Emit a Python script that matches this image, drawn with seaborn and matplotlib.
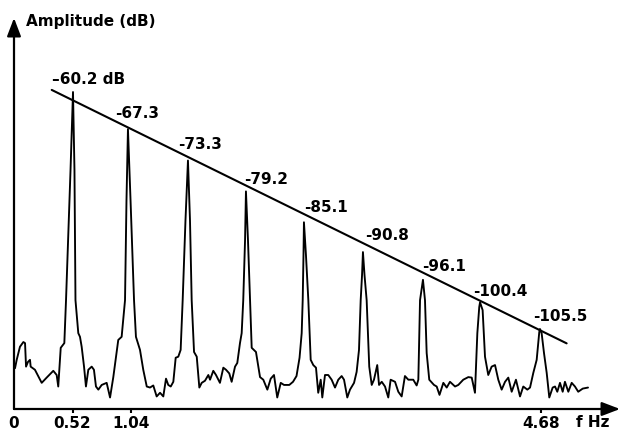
import matplotlib
matplotlib.use("Agg")
import matplotlib.pyplot as plt
import pandas as pd
import seaborn as sns

# Harmonic peaks of the spectrum (frequency in Hz, amplitude in dB)
peak_freq = [0.524, 1.012, 1.545, 2.060, 2.575, 3.099, 3.632, 4.139, 4.671]
peak_db = [-60.2, -67.3, -73.3, -79.2, -85.1, -90.8, -96.1, -100.4, -105.5]

# Remaining points of the measured spectrum trace (noise floor and peak flanks)
trace_freq = [
    0.009, 0.024, 0.053, 0.083, 0.098, 0.107, 0.124, 0.142, 0.148, 0.186,
    0.246, 0.290, 0.349, 0.379, 0.393, 0.415, 0.447, 0.462, 0.502,
    0.537, 0.546, 0.571, 0.586, 0.601, 0.622, 0.639, 0.660, 0.690, 0.710,
    0.728, 0.749, 0.779, 0.823, 0.853, 0.882, 0.926, 0.956, 0.970, 0.986, 0.999,
    1.035, 1.066, 1.083, 1.119, 1.148, 1.179, 1.208, 1.237, 1.267, 1.297,
    1.326, 1.350, 1.370, 1.392, 1.415, 1.436, 1.459, 1.480, 1.498, 1.523,
    1.563, 1.578, 1.599, 1.623, 1.646, 1.667, 1.696, 1.726, 1.741, 1.770,
    1.794, 1.829, 1.859, 1.883, 1.912, 1.933, 1.963, 1.983, 2.007, 2.022, 2.036, 2.052,
    2.078, 2.096, 2.111, 2.149, 2.185, 2.214, 2.250, 2.280, 2.309, 2.338,
    2.369, 2.398, 2.445, 2.478, 2.509, 2.536, 2.555, 2.564, 2.571,
    2.593, 2.614, 2.635, 2.658, 2.682, 2.702, 2.724, 2.738, 2.762, 2.791,
    2.821, 2.851, 2.880, 2.910, 2.931, 2.960, 2.984, 3.020, 3.043, 3.064, 3.079, 3.091,
    3.113, 3.132, 3.155, 3.177, 3.197, 3.226, 3.242, 3.266, 3.295, 3.324,
    3.345, 3.384, 3.413, 3.443, 3.472, 3.502, 3.546, 3.576, 3.591, 3.606,
    3.650, 3.665, 3.688, 3.730, 3.754, 3.779, 3.813, 3.843, 3.872, 3.917,
    3.946, 3.990, 4.035, 4.065, 4.094, 4.115, 4.132,
    4.162, 4.183, 4.212, 4.242, 4.272, 4.301, 4.331, 4.361, 4.390, 4.420,
    4.458, 4.494, 4.523, 4.559, 4.583, 4.612, 4.642, 4.665,
    4.686, 4.707, 4.731, 4.754, 4.784, 4.805, 4.825, 4.849, 4.873, 4.893,
    4.923, 4.953, 4.982, 5.011, 5.051, 5.098,
]
trace_db = [
    -113.0, -111.4, -108.9, -108.0, -108.2, -112.7, -111.8, -111.4, -112.7, -113.3,
    -115.8, -114.8, -113.5, -114.3, -116.5, -109.1, -108.2, -100.0, -75.1,
    -75.1, -100.0, -106.3, -107.0, -108.9, -112.7, -116.5, -113.3, -112.7, -113.3,
    -116.5, -117.1, -116.2, -115.8, -118.6, -114.7, -107.6, -107.0, -103.8, -100.0, -80.9,
    -80.9, -100.0, -107.0, -109.5, -113.3, -116.5, -116.7, -116.3, -118.4, -117.7,
    -118.4, -115.0, -116.2, -116.5, -115.6, -111.0, -110.8, -109.5, -100.0, -84.7,
    -84.7, -100.0, -109.9, -110.8, -116.7, -115.8, -115.4, -114.3, -115.2, -113.5,
    -114.3, -115.8, -112.9, -113.3, -114.0, -115.6, -112.7, -112.0, -108.2, -106.3, -100.0, -88.5,
    -88.5, -100.0, -109.1, -109.9, -114.7, -115.2, -117.1, -115.0, -114.3, -118.6,
    -115.8, -116.2, -116.2, -115.6, -114.5, -111.0, -106.3, -100.0, -91.4,
    -91.4, -100.0, -111.4, -112.4, -112.9, -117.7, -115.2, -118.6, -114.3, -114.3,
    -115.2, -116.7, -115.2, -114.5, -115.2, -118.6, -117.1, -115.8, -113.7, -109.5, -100.0, -95.2,
    -95.2, -100.0, -112.7, -116.2, -115.2, -112.4, -116.2, -115.6, -116.5, -118.6,
    -115.2, -115.6, -117.5, -118.4, -114.5, -115.2, -115.2, -116.3, -115.2, -100.0,
    -100.0, -110.1, -115.2, -116.2, -116.5, -118.1, -115.8, -116.7, -115.6, -116.5,
    -116.2, -115.2, -114.7, -114.8, -117.7, -106.3, -101.3,
    -101.9, -110.8, -114.3, -112.7, -112.4, -115.2, -117.1, -115.6, -114.8, -117.5,
    -115.2, -118.4, -116.5, -117.1, -116.7, -113.9, -111.4, -106.1,
    -106.3, -110.1, -113.9, -118.6, -116.7, -116.5, -117.5, -115.8, -117.5, -115.6,
    -117.5, -115.8, -116.5, -117.5, -116.9, -116.7,
]

# Straight envelope drawn across the harmonic tops
envelope_freq = [0.335, 4.908]
envelope_db = [-59.8, -108.25]

tick_freq = [0, 0.52, 1.04, 4.68]
tick_labels = ["0", "0.52", "1.04", "4.68"]

# Label placement relative to each peak top, in pixels (dx, dy)
label_offsets = [(15.5, 8.5), (9, 11), (12, 11.5), (20.5, 7.5), (22, 10.5),
                 (24.5, 12), (21, 9), (20.5, 6), (20, 8)]

FONT_SIZE = 11

sns.set_theme(style="white")
plt.rcParams["font.family"] = ["DejaVu Sans"]
plt.rcParams["font.weight"] = "bold"
plt.rcParams["text.color"] = "black"

spectrum = pd.DataFrame({
    "freq": trace_freq + peak_freq,
    "db": trace_db + peak_db,
}).sort_values("freq")

fig = plt.figure(figsize=(6.21, 4.32), dpi=100)
ax = fig.add_axes([14 / 621, 23 / 432, 606 / 621, 391 / 432])
ax.set_xlim(0, 5.382)
ax.set_ylim(-120.8, -46.05)

sns.lineplot(data=spectrum, x="freq", y="db", sort=False, estimator=None,
             color="black", linewidth=1.35, ax=ax)
sns.lineplot(x=envelope_freq, y=envelope_db, color="black", linewidth=1.5, ax=ax)

for spine in ax.spines.values():
    spine.set_visible(False)

arrow = dict(arrowstyle="-|>,head_length=1.1,head_width=0.42", color="black",
             lw=1.6, shrinkA=0, shrinkB=0, mutation_scale=10)
ax.annotate("", xy=(0, 1), xytext=(0, 0), xycoords="axes fraction", arrowprops=arrow)
ax.annotate("", xy=(1, 0), xytext=(0, 0), xycoords="axes fraction", arrowprops=arrow)

ax.set_yticks([])
ax.set_xticks(tick_freq, tick_labels)
ax.tick_params(axis="x", bottom=True, length=3, width=1.5, direction="out",
               pad=2.2, labelsize=FONT_SIZE, colors="black")
for lab in ax.get_xticklabels():
    lab.set_fontweight("bold")
ax.xaxis.get_major_ticks()[0].tick1line.set_visible(False)
ax.set_xlabel("")
ax.set_ylabel("")

ax.annotate("f Hz", xy=(5.142, 0), xycoords=("data", "axes fraction"),
            xytext=(0, -4.4), textcoords="offset points", ha="center", va="top",
            fontsize=FONT_SIZE, fontweight="bold")

fig.text(26 / 621, 1 - 26 / 432, "Amplitude (dB)", ha="left", va="baseline",
         fontsize=FONT_SIZE, fontweight="bold")

for i, (f, v) in enumerate(zip(peak_freq, peak_db)):
    text = f"{v:.1f}"
    if i == 0:
        text = text.replace("-", "\u2013") + " dB"
    dx, dy = label_offsets[i]
    ax.annotate(text, xy=(f, v), xytext=(dx, dy), textcoords="offset pixels",
                ha="center", va="baseline", fontsize=FONT_SIZE, fontweight="bold")

fig.savefig("out.png", dpi=100, facecolor="white")
